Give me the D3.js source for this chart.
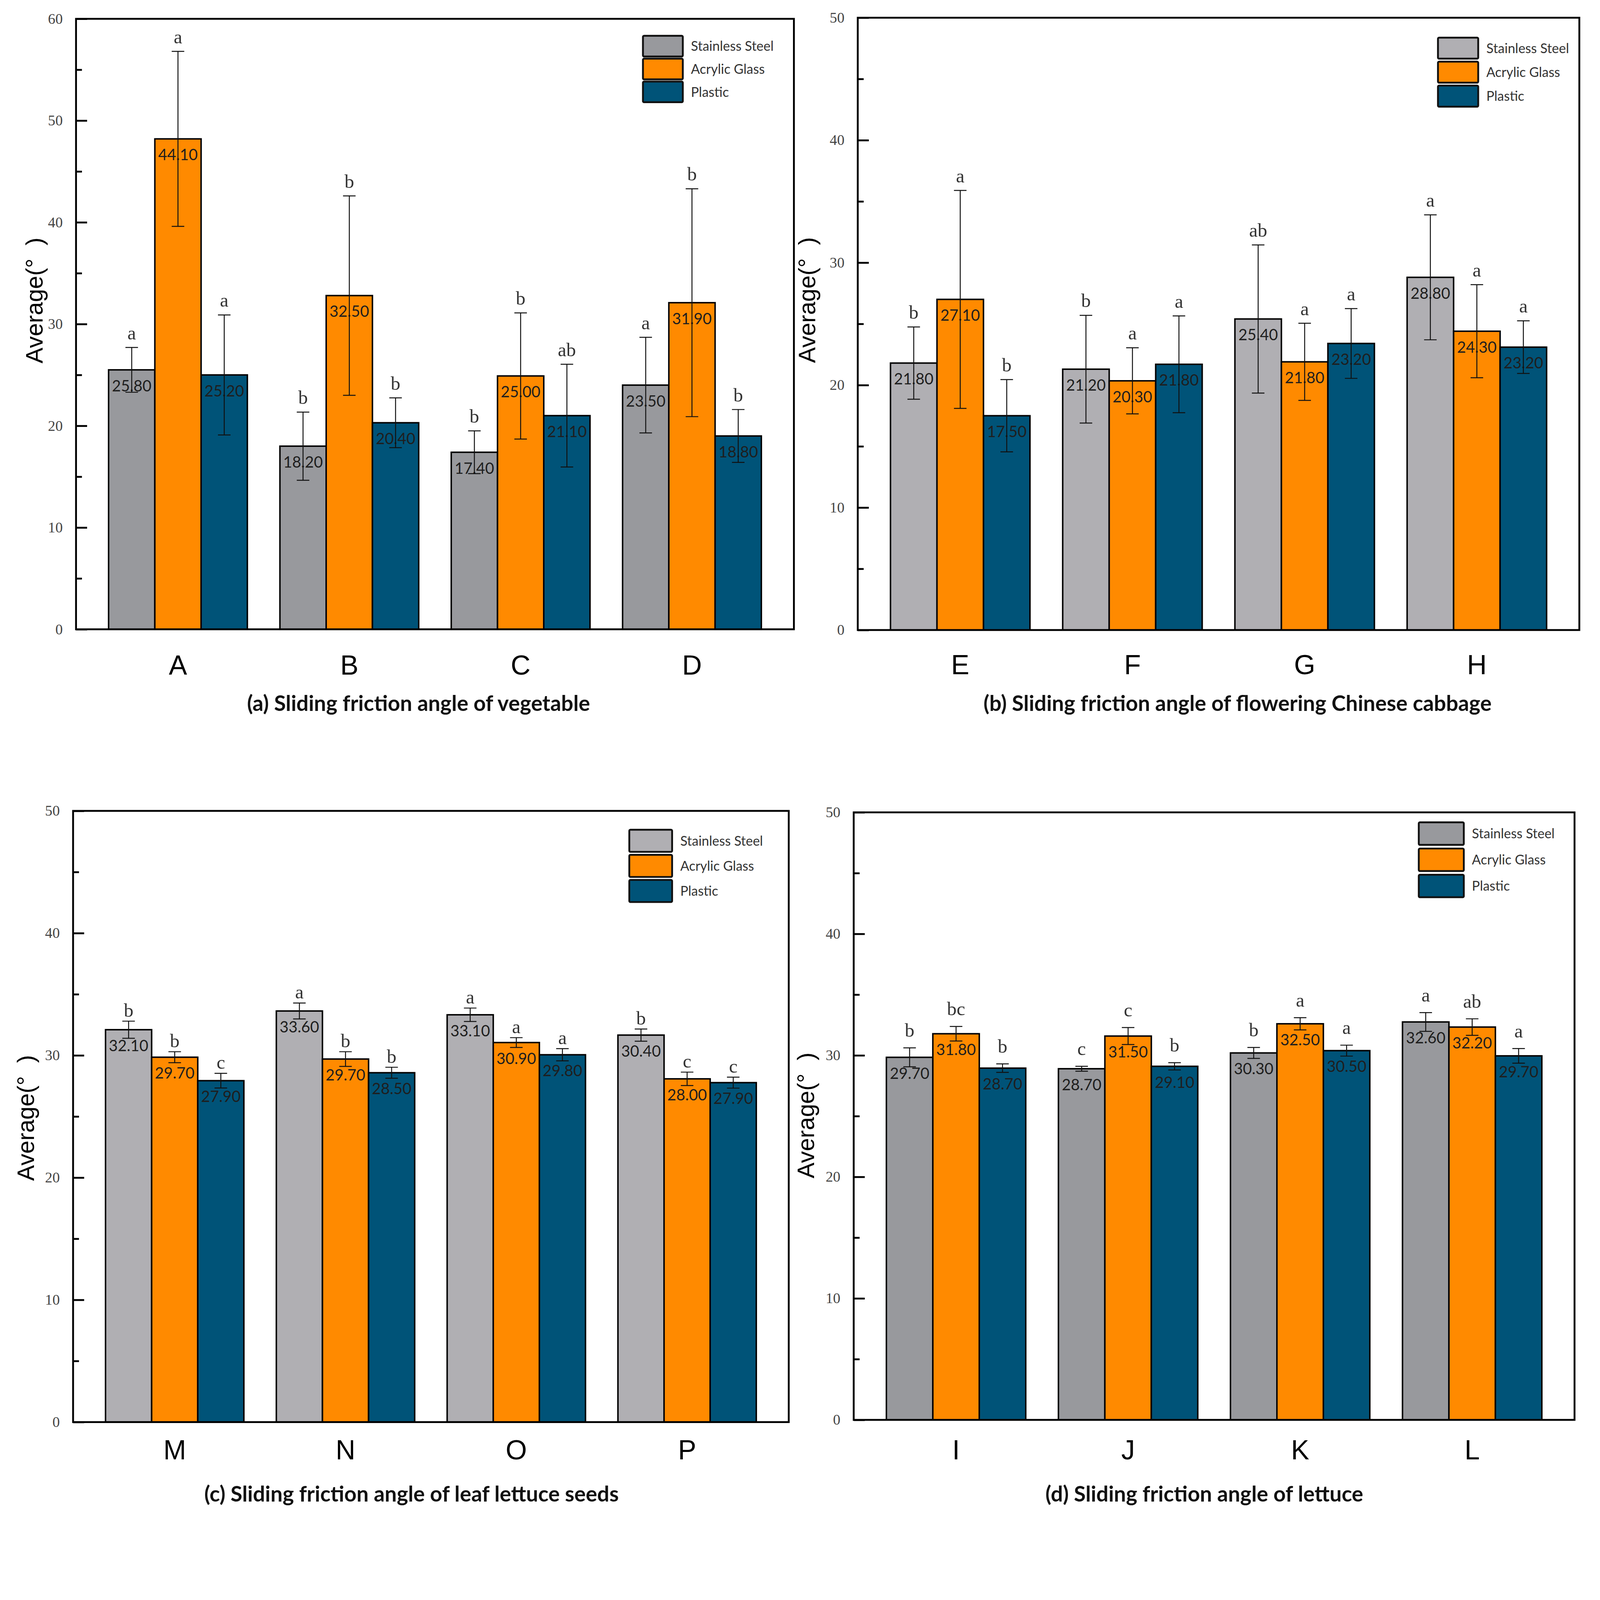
<!DOCTYPE html>
<html>
<head>
<meta charset="utf-8">
<script src="https://cdn.jsdelivr.net/npm/d3@7"></script>
<style>
  html, body { margin: 0; padding: 0; background: #fff; overflow: hidden; }
  svg { display: block; width: 100vw; height: 100vh; }
</style>
</head>
<body>
<div class="figure"></div>
<script>
// Data
const materials = ['Stainless Steel', 'Acrylic Glass', 'Plastic'];

// (a) vegetable
const catsA = ['A', 'B', 'C', 'D'];
const meanA = [[25.5, 48.2, 25.0], [18.0, 32.8, 20.3], [17.4, 24.9, 21.0], [24.0, 32.1, 19.0]];
const errA = [[2.2, 8.6, 5.9], [3.35, 9.8, 2.45], [2.1, 6.2, 5.05], [4.7, 11.2, 2.6]];
const textA = [['25.80', '44.10', '25.20'], ['18.20', '32.50', '20.40'], ['17.40', '25.00', '21.10'], ['23.50', '31.90', '18.80']];
const sigA = [['a', 'a', 'a'], ['b', 'b', 'b'], ['b', 'b', 'ab'], ['a', 'b', 'b']];

// (b) flowering Chinese cabbage
const catsB = ['E', 'F', 'G', 'H'];
const meanB = [[21.8, 27.0, 17.5], [21.3, 20.35, 21.7], [25.4, 21.9, 23.4], [28.8, 24.4, 23.1]];
const errB = [[2.95, 8.9, 2.95], [4.4, 2.7, 3.95], [6.05, 3.15, 2.85], [5.1, 3.8, 2.15]];
const textB = [['21.80', '27.10', '17.50'], ['21.20', '20.30', '21.80'], ['25.40', '21.80', '23.20'], ['28.80', '24.30', '23.20']];
const sigB = [['b', 'a', 'b'], ['b', 'a', 'a'], ['ab', 'a', 'a'], ['a', 'a', 'a']];

// (c) leaf lettuce seeds
const catsC = ['M', 'N', 'O', 'P'];
const meanC = [[32.1, 29.85, 27.93], [33.63, 29.7, 28.58], [33.32, 31.05, 30.05], [31.66, 28.08, 27.77]];
const errC = [[0.7, 0.45, 0.6], [0.65, 0.6, 0.45], [0.55, 0.4, 0.5], [0.5, 0.55, 0.45]];
const textC = [['32.10', '29.70', '27.90'], ['33.60', '29.70', '28.50'], ['33.10', '30.90', '29.80'], ['30.40', '28.00', '27.90']];
const sigC = [['b', 'b', 'c'], ['a', 'b', 'b'], ['a', 'a', 'a'], ['b', 'c', 'c']];

// (d) lettuce
const catsD = ['I', 'J', 'K', 'L'];
const meanD = [[29.84, 31.78, 28.95], [28.9, 31.59, 29.1], [30.2, 32.6, 30.39], [32.75, 32.33, 29.96]];
const errD = [[0.78, 0.6, 0.35], [0.2, 0.7, 0.3], [0.45, 0.5, 0.45], [0.77, 0.68, 0.6]];
const textD = [['29.70', '31.80', '28.70'], ['28.70', '31.50', '29.10'], ['30.30', '32.50', '30.50'], ['32.60', '32.20', '29.70']];
const sigD = [['b', 'bc', 'b'], ['c', 'c', 'b'], ['b', 'a', 'a'], ['a', 'ab', 'a']];

const titles = [
  '(a) Sliding friction angle of vegetable',
  '(b) Sliding friction angle of flowering Chinese cabbage',
  '(c) Sliding friction angle of leaf lettuce seeds',
  '(d) Sliding friction angle of lettuce'
];
const yMaxes = [60, 50, 50, 50];

const darkGray = '#98999d';
const lightGray = '#b0afb3';
const orange = '#ff8a00';
const blue = '#005378';

// Layout of each panel (pixels)
const panels = [
  { cats: catsA, mean: meanA, err: errA, text: textA, sig: sigA, gray: darkGray,
    x0: 206, y0: 51, x1: 2151, y1: 1705, catPad: 70, sigGap: 22,
    legX: 1742, legY: 97, legW: 108, legH: 56, legStep: 62,
    yLabX: 115, yLabY: 814, titleX: 1134, titleY: 1926 },
  { cats: catsB, mean: meanB, err: errB, text: textB, sig: sigB, gray: lightGray,
    x0: 2324, y0: 48, x1: 4279, y1: 1707, catPad: 67, sigGap: 22,
    legX: 3896, legY: 102, legW: 109, legH: 57, legStep: 65,
    yLabX: 2209, yLabY: 813, titleX: 3353, titleY: 1926 },
  { cats: catsC, mean: meanC, err: errC, text: textC, sig: sigC, gray: lightGray,
    x0: 198, y0: 2197, x1: 2137, y1: 3853, catPad: 48, sigGap: 12,
    legX: 1705, legY: 2248, legW: 116, legH: 60, legStep: 68,
    yLabX: 92, yLabY: 3029, titleX: 1115, titleY: 4068 },
  { cats: catsD, mean: meanD, err: errD, text: textD, sig: sigD, gray: darkGray,
    x0: 2313, y0: 2201, x1: 4266, y1: 3847, catPad: 54, sigGap: 30,
    legX: 3844, legY: 2228, legW: 122, legH: 61, legStep: 71,
    yLabX: 2206, yLabY: 3022, titleX: 3263, titleY: 4068 }
];

const svg = d3.select('.figure')
              .append('svg')
              .attr('viewBox', '0 0 4335 4117')
              .attr('preserveAspectRatio', 'xMidYMin meet');

panels.forEach((p, i) => {
  let colors = [p.gray, orange, blue];
  let yMax = yMaxes[i];

  let xScale = d3.scaleBand()
                 .domain(p.cats)
                 .range([p.x0, p.x1])
                 .padding(0.19);
  let subScale = d3.scaleBand()
                   .domain(d3.range(materials.length))
                   .range([0, xScale.bandwidth()]);
  let yScale = d3.scaleLinear()
                 .domain([0, yMax])
                 .range([p.y1, p.y0]);

  let g = svg.append('g').attr('class', 'panel');

  // Bars
  let groups = g.selectAll('.group')
                .data(p.cats)
                .join('g')
                .attr('class', 'group')
                .attr('transform', d => `translate(${xScale(d)},0)`);

  groups.each(function(cat, ci) {
    let grp = d3.select(this);
    let rows = materials.map((m, mi) => ({
      mi: mi,
      v: p.mean[ci][mi],
      e: p.err[ci][mi],
      t: p.text[ci][mi],
      s: p.sig[ci][mi]
    }));
    let cx = d => subScale(d.mi) + subScale.bandwidth() / 2;

    grp.selectAll('rect')
       .data(rows)
       .join('rect')
       .attr('x', d => subScale(d.mi))
       .attr('y', d => yScale(d.v))
       .attr('width', subScale.bandwidth())
       .attr('height', d => yScale(0) - yScale(d.v))
       .attr('fill', d => colors[d.mi])
       .attr('stroke', '#000')
       .attr('stroke-width', 4);

    // Value labels just inside the bar top
    grp.selectAll('.val')
       .data(rows)
       .join('text')
       .attr('class', 'val')
       .attr('x', cx)
       .attr('y', d => yScale(d.v) + 58)
       .attr('text-anchor', 'middle')
       .attr('font-family', 'Lato, "Open Sans", sans-serif')
       .attr('font-size', 42)
       .attr('fill', '#1e1e1e')
       .text(d => d.t);

    // Error bars
    let eb = grp.selectAll('.err')
                .data(rows)
                .join('g')
                .attr('class', 'err')
                .attr('stroke', '#111')
                .attr('stroke-width', 2.6);
    eb.append('line')
      .attr('x1', cx).attr('x2', cx)
      .attr('y1', d => yScale(d.v + d.e))
      .attr('y2', d => yScale(d.v - d.e));
    eb.append('line')
      .attr('x1', d => cx(d) - 17).attr('x2', d => cx(d) + 17)
      .attr('y1', d => yScale(d.v + d.e))
      .attr('y2', d => yScale(d.v + d.e));
    eb.append('line')
      .attr('x1', d => cx(d) - 17).attr('x2', d => cx(d) + 17)
      .attr('y1', d => yScale(d.v - d.e))
      .attr('y2', d => yScale(d.v - d.e));

    // Significance letters
    grp.selectAll('.sig')
       .data(rows)
       .join('text')
       .attr('class', 'sig')
       .attr('x', cx)
       .attr('y', d => yScale(d.v + d.e) - p.sigGap)
       .attr('text-anchor', 'middle')
       .attr('font-family', '"Liberation Serif", "DejaVu Serif", serif')
       .attr('font-size', 52)
       .attr('fill', '#333')
       .text(d => d.s);
  });

  // Y axis, ticks pointing inward
  let yAxis = d3.axisLeft(yScale)
                .tickValues(d3.range(0, yMax + 1, 10))
                .tickSize(-30)
                .tickPadding(36)
                .tickFormat(d3.format('d'));
  let yMinor = d3.axisLeft(yScale)
                 .tickValues(d3.range(5, yMax, 10))
                 .tickSize(-16)
                 .tickFormat('');

  let ya = g.append('g')
            .attr('class', 'axis y-axis')
            .attr('transform', `translate(${p.x0},0)`)
            .call(yAxis);
  g.append('g')
   .attr('class', 'axis y-minor')
   .attr('transform', `translate(${p.x0},0)`)
   .call(yMinor);
  g.selectAll('.axis .domain').remove();
  g.selectAll('.axis line').attr('stroke', '#000').attr('stroke-width', 5);
  ya.selectAll('text')
    .attr('font-family', '"Liberation Serif", "DejaVu Serif", serif')
    .attr('font-size', 40)
    .attr('fill', '#444');

  // X axis category labels
  let xAxis = d3.axisBottom(xScale)
                .tickSize(0)
                .tickPadding(p.catPad);
  let xa = g.append('g')
            .attr('class', 'axis x-axis')
            .attr('transform', `translate(0,${p.y1})`)
            .call(xAxis);
  xa.select('.domain').remove();
  xa.selectAll('text')
    .attr('font-family', '"Liberation Sans", Arial, sans-serif')
    .attr('font-size', 74)
    .attr('fill', '#000');

  // Frame
  g.append('rect')
   .attr('x', p.x0)
   .attr('y', p.y0)
   .attr('width', p.x1 - p.x0)
   .attr('height', p.y1 - p.y0)
   .attr('fill', 'none')
   .attr('stroke', '#000')
   .attr('stroke-width', 5);

  // Legend
  let leg = g.append('g').attr('class', 'legend');
  let items = leg.selectAll('.item')
                 .data(materials)
                 .join('g')
                 .attr('class', 'item')
                 .attr('transform', (d, k) => `translate(${p.legX},${p.legY + k * p.legStep})`);
  items.append('rect')
       .attr('width', p.legW)
       .attr('height', p.legH)
       .attr('rx', 3)
       .attr('fill', (d, k) => colors[k])
       .attr('stroke', '#111')
       .attr('stroke-width', 5);
  items.append('text')
       .attr('x', p.legW + 22)
       .attr('y', p.legH / 2)
       .attr('dy', '0.36em')
       .attr('font-family', 'Lato, "Open Sans", sans-serif')
       .attr('font-size', 36)
       .attr('fill', '#333')
       .text(d => d);

  // Y label
  g.append('text')
   .attr('transform', `translate(${p.yLabX},${p.yLabY}) rotate(-90)`)
   .attr('text-anchor', 'middle')
   .attr('font-family', '"Liberation Sans", Arial, sans-serif')
   .attr('font-size', 64)
   .attr('fill', '#000')
   .style('white-space', 'pre')
   .text('Average(°  )');

  // Panel title
  g.append('text')
   .attr('x', p.titleX)
   .attr('y', p.titleY)
   .attr('text-anchor', 'middle')
   .attr('font-family', 'Lato, "Open Sans", sans-serif')
   .attr('font-weight', 'bold')
   .attr('font-size', 58)
   .attr('fill', '#111')
   .text(titles[i]);
});
</script>
</body>
</html>
